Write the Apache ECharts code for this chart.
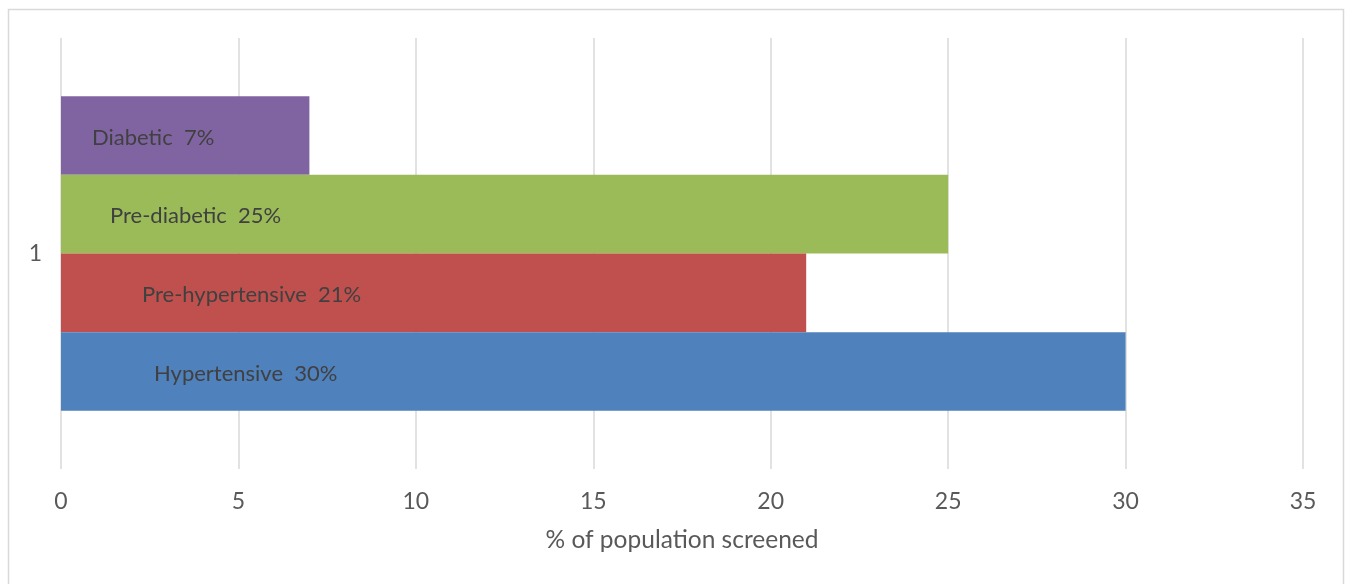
<!DOCTYPE html>
<html>
<head>
<meta charset="utf-8">
<script src="https://cdn.jsdelivr.net/npm/echarts@6/dist/echarts.min.js"></script>
<style>
  html, body { margin: 0; padding: 0; background: #ffffff; }
  #chart { width: 1345px; height: 584px; }
</style>
</head>
<body>
<div id="chart"></div>
<script>
// Screening results, one group of bars (category "1"); listed top to bottom
const categories = ['1'];
const seriesNames = ['Diabetic', 'Pre-diabetic', 'Pre-hypertensive', 'Hypertensive'];
const seriesValues = [7, 25, 21, 30];
const seriesColors = ['#8064A2', '#9BBB59', '#C0504D', '#4F81BD'];
// horizontal inset of each bar's label from the bar's left edge
const labelInsets = [31, 49, 81, 93];
const xTicks = { min: 0, max: 35, interval: 5 };
const xAxisTitle = '% of population screened';

const FONT = 'Lato, "Open Sans", sans-serif';

const chart = echarts.init(document.getElementById('chart'), null, { renderer: 'canvas' });

const series = seriesNames.map((name, i) => ({
  name: name,
  type: 'bar',
  data: [seriesValues[i]],
  barGap: '0%',
  barCategoryGap: '27%',
  itemStyle: { color: seriesColors[i] },
  label: {
    show: true,
    position: [labelInsets[i], '50%'],
    offset: [0, 2],
    verticalAlign: 'middle',
    align: 'left',
    color: '#404040',
    fontFamily: FONT,
    fontSize: 22,
    formatter: p => p.seriesName + '  ' + p.value + '%'
  },
  silent: true
}));

chart.setOption({
  animation: false,
  backgroundColor: '#ffffff',
  graphic: [{
    type: 'rect',
    shape: { x: 8.5, y: 9.5, width: 1335, height: 600 },
    style: { fill: 'none', stroke: '#d9d9d9', lineWidth: 1.5 },
    silent: true,
    z: -1
  }],
  grid: { left: 61, right: 42, top: 38, bottom: 115, containLabel: false },
  xAxis: {
    type: 'value',
    min: xTicks.min,
    max: xTicks.max,
    interval: xTicks.interval,
    name: xAxisTitle,
    nameLocation: 'middle',
    nameGap: 59,
    nameTextStyle: { color: '#595959', fontFamily: FONT, fontSize: 24.5 },
    axisLine: { show: false },
    axisTick: { show: false },
    axisLabel: { color: '#595959', fontFamily: FONT, fontSize: 23, margin: 21 },
    splitLine: { show: true, lineStyle: { color: '#d9d9d9', width: 1.5 } }
  },
  yAxis: {
    type: 'category',
    data: categories,
    axisLine: { show: false },
    axisTick: { show: false },
    axisLabel: { color: '#595959', fontFamily: FONT, fontSize: 23, margin: 19 },
    splitLine: { show: false }
  },
  series: series
});
</script>
</body>
</html>
